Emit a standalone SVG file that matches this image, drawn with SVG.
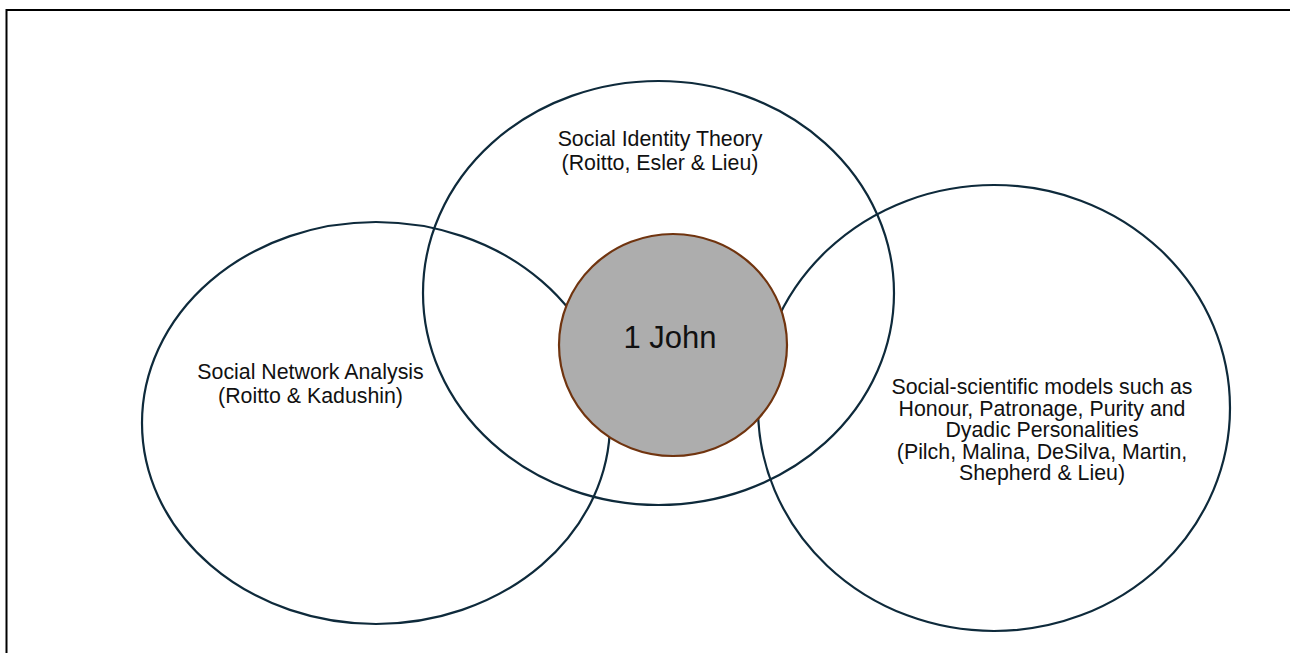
<svg xmlns="http://www.w3.org/2000/svg" width="1290" height="653" viewBox="0 0 1290 653">
  <style>
    .ring { fill: none; stroke: #0e2a3b; stroke-width: 2.2; }
    .core { fill: #adadad; stroke: #70340f; stroke-width: 2.2; }
    .lbl { font-family: "Liberation Sans", Arial, sans-serif; font-size: 21.33px; fill: #111; text-anchor: middle; }
    .title { font-family: "Liberation Sans", Arial, sans-serif; font-size: 31px; fill: #111; text-anchor: middle; }
  </style>
  <rect x="0" y="0" width="1290" height="653" fill="#ffffff"/>
  <rect x="6.5" y="10" width="1300" height="700" fill="none" stroke="#000" stroke-width="2"/>
  <g id="connectors"></g>
  <g id="sna">
    <ellipse class="ring" cx="376" cy="423" rx="234" ry="201"/>
    <text class="lbl" x="310.5" y="379">Social Network Analysis</text>
    <text class="lbl" x="310.5" y="403">(Roitto &amp; Kadushin)</text>
  </g>
  <g id="sit">
    <ellipse class="ring" cx="658.5" cy="293" rx="235.5" ry="212"/>
    <text class="lbl" x="660" y="146">Social Identity Theory</text>
    <text class="lbl" x="660" y="170">(Roitto, Esler &amp; Lieu)</text>
  </g>
  <g id="ssm">
    <ellipse class="ring" cx="994" cy="408" rx="236" ry="223"/>
    <text class="lbl" x="1042" y="394">Social-scientific models such as</text>
    <text class="lbl" x="1042" y="415.5">Honour, Patronage, Purity and</text>
    <text class="lbl" x="1042" y="437">Dyadic Personalities</text>
    <text class="lbl" x="1042" y="458.5">(Pilch, Malina, DeSilva, Martin,</text>
    <text class="lbl" x="1042" y="480">Shepherd &amp; Lieu)</text>
  </g>
  <g id="john">
    <ellipse class="core" cx="673" cy="345" rx="114" ry="111"/>
    <text class="title" x="670" y="348">1 John</text>
  </g>
</svg>
